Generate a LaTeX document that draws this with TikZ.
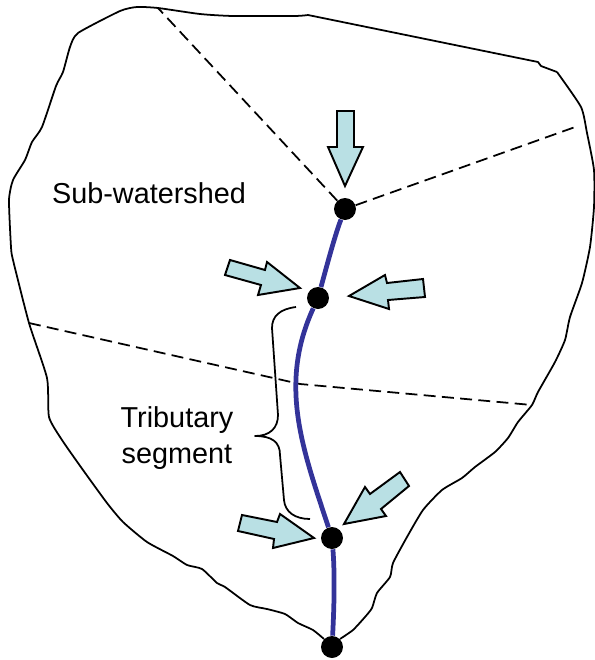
\documentclass[tikz,border=0pt]{standalone}
\usepackage{fontspec}
\setmainfont{Liberation Sans}
\usepackage{xcolor}
\usepackage{tikz}
\definecolor{riverBlue}{RGB}{51, 51, 153}
\definecolor{inflowCyan}{RGB}{185, 224, 228}
\tikzset{
    junction/.style={circle, fill=black, inner sep=0pt, minimum size=0.44cm},
    boundary/.style={line width=1pt, line join=round},
    ridge/.style={line width=1pt, dash pattern=on 6.8pt off 3.6pt},
    river/.style={line width=2.7pt, riverBlue},
    inflow/.style={draw=black, fill=inflowCyan, line width=1.1pt, line join=miter},
    areaLabel/.style={align=center, font=\fontsize{16.4}{20.2}\selectfont}
}

\begin{document}
\begin{tikzpicture}[x=0.02cm, y=-0.02cm]
        \useasboundingbox (0,0) rectangle (595,660);
        % outlet and junctions
        \node[junction] (upper) at (345,209) {};
        \node[junction] (middle) at (318,298) {};
        \node[junction] (lower) at (332,538) {};
        \node[junction] (outlet) at (332,647) {};
        % ends of the dashed lines
        \coordinate (ridgeTop) at (158,8);
        \coordinate (ridgeRight) at (578,126);
        \coordinate (ridgeLeft) at (29,323);
        \coordinate (ridgeBend) at (300,384);
        \coordinate (ridgeEnd) at (532,405);
        % watershed outline
        \draw[boundary] plot[smooth, tension=0.35] coordinates {
            (outlet.north west) (313,630) (298,623) (285,614) (267,609) (250,605)
            (225,587) (217,583) (202,569) (187,565) (173,556) (147,542)
            (123,522) (107,503) (83,470) (62,440) (49,417) (47,378)
            (29,323) (13,260) (11,247) (9,200) (13,180) (25,160) (32,142)
            (42,127) (56,86) (63,72) (70,47) (78,33) (120,11) (137,7)
            (158,8) (200,14) (233,16) (295,16) (308,15)
        };
        \draw[boundary] (308,15) -- (538,62) -- (541,66) -- (557,72);
        \draw[boundary] plot[smooth, tension=0.35] coordinates {
            (557,72) (581,107) (587,133) (594,170) (594,207) (590,247)
            (582,283) (570,317) (565,340) (555,362) (538,392) (532,405)
            (518,422) (508,438) (495,452) (475,467) (462,478) (442,490)
            (423,510) (407,537) (393,563) (390,577) (377,593) (372,608)
            (365,617) (353,630) (outlet.north east)
        };
        % sub-watershed divides
        \draw[ridge] (upper) -- (ridgeTop);
        \draw[ridge] (upper) -- (ridgeRight);
        \draw[ridge] (ridgeLeft) -- (ridgeBend) -- (ridgeEnd);
        % stream
        \draw[river] (upper) .. controls (335,235) and (327,265) .. (middle);
        \draw[river] (middle) .. controls (278,385) and (303,450) .. (lower);
        \draw[river] (lower) .. controls (335,575) and (334,610) .. (outlet);
        % inflow arrows
        \draw[inflow] (337,111) -- (354,111) -- (354,147) -- (363,147) -- (345,186) -- (328,147) -- (337,147) -- cycle;
        \draw[inflow] (230,260) -- (265,270) -- (267,262) -- (300,288) -- (258,295) -- (261,285) -- (225,275) -- cycle;
        \draw[inflow] (349,296) -- (385,275) -- (387,283) -- (423,279) -- (425,297) -- (388,300) -- (389,309) -- cycle;
        \draw[inflow] (242,515) -- (277,522) -- (280,514) -- (314,538) -- (273,548) -- (274,539) -- (238,531) -- cycle;
        \draw[inflow] (344,524) -- (365,487) -- (370,494) -- (400,472) -- (409,486) -- (381,509) -- (386,516) -- cycle;
        % brace
        \draw[boundary] (296,307) .. controls (280,309) and (272,316) .. (272,328)
            -- (278,415) .. controls (278,428) and (270,436) .. (255,436)
            .. controls (272,436) and (280,442) .. (280,455)
            -- (284,500) .. controls (285,512) and (295,519) .. (310,519);
        % labels
        \node[areaLabel] (subLabel) at (149,193) {Sub-watershed};
        \node[areaLabel] (segmentLabel) at (177,438) {Tributary\\segment};
    \end{tikzpicture}
\end{document}
